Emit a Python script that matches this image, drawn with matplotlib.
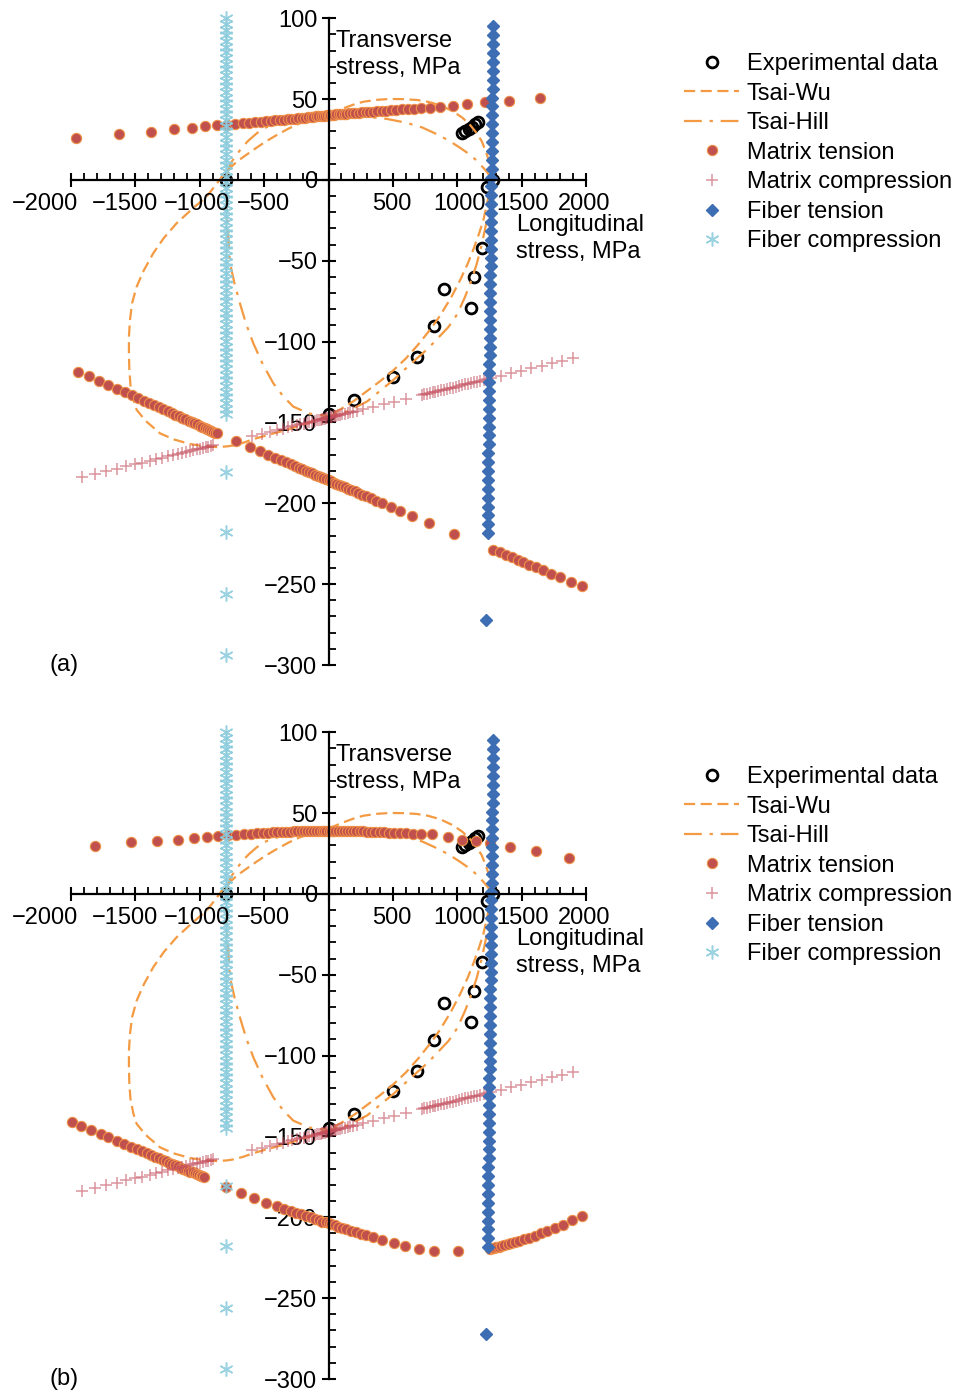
import matplotlib
matplotlib.use("Agg")
import matplotlib.pyplot as plt
from matplotlib.ticker import MultipleLocator

plt.rcParams['font.family'] = ['Liberation Sans', 'DejaVu Sans']
plt.rcParams['font.size'] = 17

# ---- data (MPa) ----
exp_pts = [(-797, 0), (1278, 0), (1229, -4.5), (1190, -42.3), (1131, -59.8), (900, -67.4),
           (1107, -79.4), (822, -90.3), (690, -109.7), (504, -121.6), (201, -136.1), (0, -145),
           (1035, 28.8), (1062, 30.2), (1088, 31.5), (1112, 33.0), (1138, 34.5), (1162, 35.8)]

tsai_wu = [(1268, 0), (1262, 5), (1252, 10), (1225, 17), (1190, 24), (1151, 29), (1100, 34),
           (1040, 38.5), (966, 42.5), (866, 46.3), (770, 48.4), (685, 49.5), (580, 50), (478, 50.1),
           (380, 49.6), (271, 48.4), (190, 46.5), (115, 44.3), (40, 41.8), (-40, 39.1), (-130, 37.3),
           (-221, 35.1), (-310, 31.8), (-402, 27.8), (-495, 23.4), (-584, 18.6), (-655, 14.6),
           (-713, 11.3), (-770, 7), (-817, 3.1), (-880, -3.5), (-947, -10.3), (-1060, -18),
           (-1180, -26.8), (-1280, -36), (-1361, -45.3), (-1435, -56), (-1490, -66), (-1525, -76),
           (-1542, -86.6), (-1550, -97), (-1550, -107), (-1547, -117), (-1538, -127), (-1515, -136),
           (-1490, -142.2), (-1420, -149), (-1309, -156.7), (-1200, -160.5), (-1076, -163.3),
           (-960, -164.8), (-869, -165.2), (-790, -164.8), (-740, -164.2), (-660, -162.5),
           (-584, -160.3), (-450, -157.3), (-325, -154.6), (-170, -150.6), (0, -146), (100, -141.5),
           (200, -136.5), (300, -130.5), (400, -124.5), (500, -118), (600, -110.5), (700, -101.5),
           (800, -91.5), (866, -84), (950, -73), (1022, -62), (1080, -52), (1125, -43), (1170, -33),
           (1203, -24.7), (1228, -16), (1248, -8), (1262, -3), (1268, 0)]

tsai_hill = [(1268, 0), (1240, 4), (1209, 7), (1150, 12), (1102, 15.5), (1020, 20), (942, 24),
             (850, 28), (727, 32.5), (600, 35.5), (450, 37.8), (300, 39.2), (150, 39.9), (0, 40),
             (-150, 39.4), (-300, 37.5), (-420, 34.5), (-506, 31.9), (-558, 28.8), (-620, 24.5),
             (-667, 20.6), (-715, 15.5), (-752, 11.3), (-780, 6), (-797, 0), (-790, -20), (-775, -40),
             (-765, -51.5), (-730, -64), (-688, -76.3), (-640, -89), (-584, -101), (-510, -114),
             (-429, -125.7), (-350, -134), (-273, -140.2), (-150, -144.5), (0, -146), (150, -143),
             (300, -137), (504, -123.7), (650, -113), (776, -104), (931, -91), (1000, -83),
             (1061, -72.2), (1110, -62), (1151, -52), (1190, -40), (1225, -27), (1250, -15),
             (1262, -7), (1268, 0)]

# matrix tension, panel (a)
mt_a = [(-1962, 25.8), (-1625, 28.3), (-1379, 29.5), (-1200, 31.4), (-1063, 32.4), (-960, 33.2),
        (-869, 33.8), (-791, 34.2), (-726, 34.6), (-667, 35.0), (-615, 35.4), (-568, 35.8),
        (-525, 36.1), (-485, 36.4), (-448, 36.7), (-413, 36.9), (-380, 37.2), (-348, 37.4),
        (-318, 37.6), (-289, 37.8), (-261, 38.0), (-234, 38.2), (-208, 38.4), (-183, 38.6),
        (-160, 38.8), (-138, 38.9), (-117, 39.1), (-97, 39.3), (-78, 39.4), (-60, 39.6),
        (-43, 39.7), (-27, 39.8), (-12, 40.0), (0, 40.1), (12, 40.2), (27, 40.3), (43, 40.4),
        (60, 40.5), (78, 40.6), (97, 40.8), (117, 40.9), (138, 41.0), (160, 41.2), (183, 41.3),
        (208, 41.5), (234, 41.6), (261, 41.8), (289, 42.0), (318, 42.1), (348, 42.3), (380, 42.5),
        (413, 42.7), (448, 42.9), (485, 43.1), (525, 43.4), (568, 43.6), (615, 43.9), (662, 44.1),
        (716, 44.4), (789, 44.8), (866, 45.3), (965, 46.0), (1074, 46.8), (1216, 48.3),
        (1405, 49.1), (1644, 50.5),
        (-1944, -118.5), (-1859, -121.5), (-1781, -124.3), (-1711, -126.7), (-1641, -129.2),
        (-1581, -131.4), (-1529, -133.2), (-1480, -134.9), (-1435, -136.5), (-1393, -138.0),
        (-1354, -139.4), (-1317, -140.7), (-1283, -141.9), (-1250, -143.1), (-1219, -144.2),
        (-1190, -145.2), (-1162, -146.2), (-1136, -147.1), (-1111, -148.0), (-1087, -148.8),
        (-1064, -149.7), (-1042, -150.4), (-1021, -151.2), (-1001, -151.9), (-982, -152.6),
        (-963, -153.2), (-945, -153.9), (-928, -154.5), (-912, -155.0), (-896, -155.6),
        (-880, -156.2), (-865, -156.7),
        (-719, -161.6), (-610, -165.2), (-532, -167.9), (-468, -170.0), (-415, -171.8),
        (-370, -173.3), (-330, -174.7), (-294, -175.9), (-261, -177.0), (-231, -178.0),
        (-203, -179.0), (-177, -179.8), (-152, -180.7), (-128, -181.5), (-105, -182.3),
        (-83, -183.0), (-62, -183.7), (-41, -184.4), (-20, -185.1), (0, -185.8), (20, -186.5),
        (41, -187.2), (62, -187.9), (83, -188.6), (105, -189.3), (128, -190.1), (152, -190.9),
        (177, -191.8), (203, -192.6), (231, -193.6), (261, -194.6), (294, -195.7), (330, -196.9),
        (370, -198.3), (413, -199.7), (483, -202.1), (556, -204.5), (646, -207.6), (783, -212.2),
        (975, -218.7),
        (1281, -228.8), (1330, -230.3), (1378, -231.9), (1425, -233.5), (1470, -235.0),
        (1514, -236.4), (1560, -237.9), (1610, -239.6), (1665, -241.4), (1728, -243.5),
        (1800, -245.8), (1880, -248.5), (1967, -251.1)]

# matrix tension, panel (b)
mt_b = [(-1810, 29.7), (-1531, 31.9), (-1331, 33.0), (-1167, 33.6), (-1041, 34.7), (-947, 35.3),
        (-859, 35.9), (-783, 36.3), (-716, 36.7), (-657, 37.0), (-604, 37.3), (-556, 37.5),
        (-512, 37.7), (-471, 37.9), (-433, 38.1), (-397, 38.2), (-363, 38.4), (-331, 38.5),
        (-300, 38.6), (-270, 38.7), (-242, 38.8), (-215, 38.9), (-189, 38.9), (-164, 38.9),
        (-140, 39.0), (-117, 39.0), (-95, 39.0), (-74, 39.0), (-54, 39.0), (-35, 39.0),
        (-17, 39.0), (0, 39.0), (17, 39.0), (35, 39.0), (54, 39.0), (74, 39.0), (95, 39.0),
        (117, 39.0), (140, 38.9), (164, 38.9), (189, 38.9), (215, 38.8), (242, 38.8), (270, 38.7),
        (300, 38.6), (331, 38.5), (363, 38.4), (397, 38.3), (433, 38.2), (471, 38.0), (512, 37.9),
        (556, 37.7), (604, 37.5), (657, 37.3), (716, 37.1), (807, 36.8), (928, 35.1), (1035, 33.6),
        (1142, 32.5), (1257, 31.5), (1410, 29.3), (1611, 26.6), (1866, 22.5),
        (-1995, -141.1), (-1919, -143.6), (-1844, -146.1), (-1768, -148.6), (-1709, -150.6),
        (-1642, -152.8), (-1585, -154.7), (-1535, -156.4), (-1490, -157.8), (-1450, -159.2),
        (-1413, -160.4), (-1379, -161.5), (-1347, -162.6), (-1317, -163.6), (-1289, -164.5),
        (-1262, -165.4), (-1237, -166.2), (-1213, -167.0), (-1190, -167.8), (-1168, -168.5),
        (-1147, -169.2), (-1127, -169.9), (-1108, -170.5), (-1090, -171.1), (-1072, -171.7),
        (-1055, -172.2), (-1039, -172.8), (-1023, -173.3), (-1008, -173.8), (-994, -174.3),
        (-980, -174.7), (-967, -175.2),
        (-794, -181.0), (-681, -185.1), (-579, -188.2), (-484, -190.9), (-403, -193.0),
        (-345, -194.6), (-295, -195.9), (-250, -197.1), (-210, -198.2), (-173, -199.2),
        (-139, -200.1), (-107, -201.0), (-77, -201.8), (-49, -202.6), (-22, -203.2), (0, -203.7),
        (22, -204.3), (49, -205.0), (77, -205.7), (107, -206.5), (139, -207.3), (173, -208.2),
        (210, -209.1), (250, -210.1), (295, -211.2), (345, -212.3), (417, -213.8), (512, -216.0),
        (593, -218.0), (700, -219.8), (821, -220.6), (1005, -220.6),
        (1253, -219.3), (1268, -219.1), (1285, -218.9), (1303, -218.6), (1322, -218.2),
        (1343, -217.8), (1366, -217.3), (1391, -216.8), (1418, -216.1), (1448, -215.4),
        (1481, -214.5), (1517, -213.5), (1556, -212.5), (1600, -211.3), (1648, -210.0),
        (1700, -208.6), (1757, -206.9), (1820, -204.6), (1890, -201.9), (1970, -199.1)]

# matrix compression (same in both panels)
mc_pts = [(-1912, -183.7), (-1815, -181.9), (-1725, -180.2), (-1645, -178.6), (-1572, -177.2),
          (-1506, -175.9), (-1446, -174.8), (-1390, -173.7), (-1339, -172.7), (-1292, -171.8),
          (-1249, -171.0), (-1209, -170.2), (-1172, -169.5), (-1138, -168.8), (-1106, -168.2),
          (-1076, -167.6), (-1049, -167.1), (-1023, -166.6), (-999, -166.1), (-976, -165.7),
          (-955, -165.3), (-935, -164.9), (-916, -164.5), (-899, -164.2),
          (-597, -158.5), (-519, -157.0), (-454, -155.8), (-400, -154.7), (-355, -153.9),
          (-315, -153.1), (-280, -152.4), (-248, -151.8), (-220, -151.2), (-194, -150.7),
          (-170, -150.3), (-148, -149.9), (-127, -149.5), (-108, -149.1), (-90, -148.7),
          (-75, -148.4), (-62, -148.2), (-50, -148.0), (-39, -147.8), (-29, -147.6), (-19, -147.4),
          (-10, -147.2), (0, -147.0), (10, -146.8), (19, -146.6), (29, -146.4), (39, -146.2),
          (50, -146.0), (62, -145.8), (75, -145.6), (90, -145.3), (108, -144.9), (127, -144.5),
          (148, -144.1), (170, -143.7), (194, -143.3), (220, -142.8), (271, -141.8), (348, -140.3),
          (428, -138.7), (510, -137.2), (600, -135.4),
          (724, -133.0), (745, -132.6), (766, -132.2), (787, -131.8), (808, -131.4), (830, -131.0),
          (852, -130.6), (874, -130.1), (896, -129.7), (919, -129.3), (942, -128.8), (965, -128.4),
          (988, -127.9), (1012, -127.5), (1036, -127.0), (1060, -126.5), (1084, -126.1),
          (1108, -125.6), (1132, -125.2), (1156, -124.7), (1180, -124.2), (1205, -123.7),
          (1230, -123.3), (1262, -122.6), (1340, -121.1), (1418, -119.6), (1497, -118.1),
          (1576, -116.6), (1655, -115.1), (1735, -113.5), (1815, -112.0), (1900, -110.3)]

# fiber tension (same in both panels)
ft_y = [95, 89.5, 84, 78.5, 73, 67.5, 62, 56.5, 51, 45.5, 40, 34.5, 29, 23.5, 18, 12.5, 7, 1.5,
        -4, -9.5, -15, -20.5, -26, -31.5, -37, -42.5, -48, -53.5, -59, -64.5, -70, -75.5, -81,
        -86.5, -92, -97.5, -103, -108.5, -114, -119.5, -125, -130.5, -136, -141.5, -147, -152.5,
        -158, -163.5, -169, -174.5, -180, -185.5, -191, -196.5, -202, -207.5, -213, -218.5, -272]
ft_x = [1279, 1278, 1278, 1277, 1276, 1275, 1275, 1274, 1273, 1272, 1272, 1271, 1270, 1269, 1269,
        1268, 1267, 1266, 1265, 1265, 1264, 1263, 1262, 1262, 1261, 1260, 1259, 1259, 1258, 1257,
        1256, 1256, 1255, 1254, 1253, 1252, 1252, 1251, 1250, 1249, 1249, 1248, 1247, 1246, 1246,
        1245, 1244, 1243, 1242, 1242, 1241, 1240, 1239, 1239, 1238, 1237, 1236, 1236, 1225]

# fiber compression (same in both panels)
fc_y = [100, 96.5, 93, 89.5, 86, 82.5, 79, 75.5, 72, 68.5, 65, 61.5, 58, 54.5, 51, 47.5, 44, 40.5,
        37, 33.5, 30, 26.5, 23, 19.5, 16, 12.5, 9, 5.5, 2, -1.5, -5, -8.5, -12, -15.5, -19, -22.5,
        -26, -29.5, -33, -36.5, -40, -43.5, -47, -50.5, -54, -57.5, -61, -64.5, -68, -71.5, -75,
        -78.5, -82, -85.5, -89, -92.5, -96, -99.5, -103, -106.5, -110, -113.5, -117, -120.5, -124,
        -127.5, -131, -134.5, -138, -141.5, -145, -180.5, -218, -256, -294]
fc_x = [-797] * len(fc_y)

x_ticks = [-2000, -1500, -1000, -500, 500, 1000, 1500, 2000]
x_tick_pos = [-2203, -1584, -1022, -509, 493, 1021, 1510, 1985]
y_ticks = [100, 50, 0, -50, -100, -150, -200, -250, -300]

ORANGE = '#F39A42'


def draw_panel(ax, mt_pts, tag, leg_top):
    ex, ey = zip(*exp_pts)
    ax.plot(ex, ey, ls='none', marker='o', ms=7.8, mfc='none', mec='black', mew=2.0,
            label='Experimental data', clip_on=False)
    wx, wy = zip(*tsai_wu)
    ax.plot(wx, wy, color=ORANGE, lw=1.6, ls=(0, (5, 2.5)), label='Tsai-Wu')
    hx, hy = zip(*tsai_hill)
    ax.plot(hx, hy, color=ORANGE, lw=1.6, ls=(0, (8, 3.5, 1.5, 3.5)), label='Tsai-Hill')
    mx, my = zip(*mt_pts)
    ax.plot(mx, my, ls='none', marker='o', ms=7.4, mfc='#C0504D', mec='#EE9048', mew=0.8,
            label='Matrix tension', clip_on=False)
    cx, cy = zip(*mc_pts)
    ax.plot(cx, cy, ls='none', marker='+', ms=9, color='#C44E5E', alpha=0.6, mew=1.1,
            label='Matrix compression', clip_on=False)
    ax.plot(ft_x, ft_y, ls='none', marker='D', ms=6.0, color='#3D6DB3',
            label='Fiber tension', clip_on=False)
    ax.plot(fc_x, fc_y, ls='none', marker=(6, 2, 0), ms=10, color='#8ACBDC', mew=1.1,
            alpha=0.85, label='Fiber compression', clip_on=False)

    ax.set_xlim(-2000, 2000)
    ax.set_ylim(-300, 100)
    ax.spines['left'].set_position(('data', 0))
    ax.spines['bottom'].set_position(('data', 0))
    ax.spines['top'].set_visible(False)
    ax.spines['right'].set_visible(False)
    for s in ('left', 'bottom'):
        ax.spines[s].set_linewidth(1.6)

    ax.set_xticks([-2000, -1500, -1000, -500, 0, 500, 1000, 1500, 2000])
    ax.set_xticklabels([])
    ax.xaxis.set_minor_locator(MultipleLocator(100))
    ax.set_yticks(y_ticks)
    ax.set_yticklabels([str(v).replace('-', '\u2212') for v in y_ticks])
    ax.yaxis.set_minor_locator(MultipleLocator(10))
    ax.tick_params(which='major', direction='inout', length=10, width=1.5, pad=3)
    ax.tick_params(which='minor', direction='in', length=5, width=1.3)
    ax.patch.set_visible(False)

    for v, p in zip(x_ticks, x_tick_pos):
        ax.annotate(str(v).replace('-', '\u2212'), xy=(p, 0), xytext=(0, -21.5),
                    textcoords='offset points', ha='center', va='baseline',
                    annotation_clip=False)

    ax.text(55, 93, 'Transverse\nstress, MPa', ha='left', va='top', linespacing=1.32)
    ax.text(1455, -21, 'Longitudinal\nstress, MPa', ha='left', va='top', linespacing=1.32)

    pos = ax.get_position()
    fig.text(64 / 959, pos.y0, tag, ha='center', va='center')

    fig.legend(*ax.get_legend_handles_labels(), loc='upper left',
               bbox_to_anchor=(684 / 959, 1 - leg_top / 1397), frameon=False,
               borderpad=0, borderaxespad=0, handlelength=2.35, handletextpad=0.3,
               labelspacing=0.32, fontsize=17)


fig = plt.figure(figsize=(9.59, 13.97), dpi=100)
ax_a = fig.add_axes([71 / 959, 1 - 665 / 1397, 515 / 959, 646.7 / 1397])
ax_b = fig.add_axes([71 / 959, 1 - 1379 / 1397, 515 / 959, 646.7 / 1397])

draw_panel(ax_a, mt_a, '(a)', 53)
draw_panel(ax_b, mt_b, '(b)', 766)

fig.savefig('out.png', dpi=100)
